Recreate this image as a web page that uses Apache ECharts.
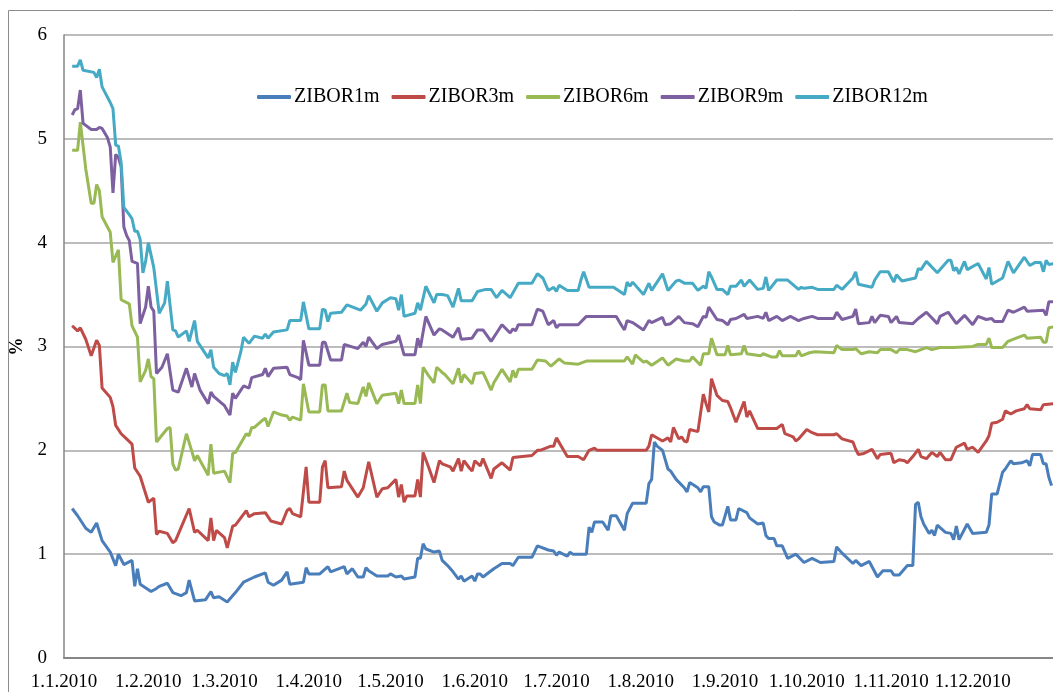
<!DOCTYPE html>
<html>
<head>
<meta charset="utf-8">
<title>ZIBOR 2010</title>
<script src="https://cdn.jsdelivr.net/npm/echarts@6/dist/echarts.min.js"></script>
<style>
  html, body { margin: 0; padding: 0; background: #fff; }
  #chart { width: 1053px; height: 692px; }
</style>
</head>
<body>
<div id="chart"></div>
<script>
  // x axis labels (first day of each month)
  var monthLabels = ['1.1.2010', '1.2.2010', '1.3.2010', '1.4.2010', '1.5.2010', '1.6.2010',
    '1.7.2010', '1.8.2010', '1.9.2010', '1.10.2010', '1.11.2010', '1.12.2010']
  var seriesNames = ['ZIBOR1m', 'ZIBOR3m', 'ZIBOR6m', 'ZIBOR9m', 'ZIBOR12m']
  var seriesColors = ['#4A7EBB', '#BE4B48', '#98B954', '#7D60A0', '#46AAC5']

  // [month-day 2010, rate %]
  var zibor1m = [
    ['01-04',1.44],['01-06',1.37],['01-09',1.25],['01-11',1.21],['01-13',1.30],['01-15',1.13],['01-18',1.02],['01-20',0.89],['01-21',1.00],['01-23',0.90],['01-26',0.94],['01-27',0.69],['01-28',0.86],['01-29',0.71],
    ['02-02',0.64],['02-04',0.67],['02-05',0.69],['02-08',0.72],['02-10',0.63],['02-13',0.60],['02-15',0.63],['02-16',0.75],['02-18',0.55],['02-22',0.56],['02-24',0.64],['02-25',0.58],['02-27',0.59],
    ['03-02',0.54],['03-05',0.63],['03-08',0.73],['03-12',0.78],['03-16',0.82],['03-17',0.73],['03-19',0.70],['03-22',0.75],['03-24',0.83],['03-25',0.71],['03-30',0.73],['03-31',0.87],
    ['04-01',0.81],['04-05',0.81],['04-08',0.88],['04-09',0.83],['04-14',0.88],['04-15',0.81],['04-17',0.86],['04-19',0.78],['04-21',0.78],['04-22',0.87],['04-23',0.84],['04-26',0.79],['04-30',0.79],
    ['05-01',0.81],['05-03',0.78],['05-05',0.79],['05-06',0.76],['05-10',0.78],['05-11',0.96],['05-12',0.96],['05-13',1.10],['05-14',1.05],['05-17',1.02],['05-19',1.03],['05-20',0.94],['05-22',0.89],['05-24',0.83],['05-26',0.76],['05-27',0.79],['05-28',0.74],['05-31',0.79],
    ['06-01',0.74],['06-02',0.81],['06-03',0.81],['06-04',0.78],['06-07',0.84],['06-08',0.86],['06-11',0.91],['06-14',0.91],['06-15',0.89],['06-17',0.97],['06-22',0.97],['06-24',1.08],['06-28',1.04],['06-30',1.03],
    ['07-01',0.99],['07-02',1.02],['07-05',0.98],['07-06',1.02],['07-07',1.00],['07-12',1.00],['07-13',1.26],['07-14',1.21],['07-15',1.31],['07-18',1.31],['07-20',1.23],['07-21',1.37],['07-23',1.37],['07-26',1.23],['07-27',1.39],['07-29',1.49],
    ['08-03',1.49],['08-04',1.68],['08-05',1.72],['08-06',2.08],['08-07',2.04],['08-09',2.00],['08-11',1.82],['08-12',1.80],['08-14',1.72],['08-17',1.64],['08-18',1.60],['08-19',1.69],['08-22',1.64],['08-23',1.60],['08-24',1.65],['08-26',1.65],['08-27',1.36],['08-28',1.31],['08-30',1.28],['08-31',1.28],
    ['09-02',1.46],['09-03',1.33],['09-05',1.33],['09-06',1.44],['09-09',1.40],['09-10',1.35],['09-13',1.29],['09-15',1.30],['09-16',1.18],['09-17',1.15],['09-19',1.15],['09-20',1.08],['09-22',1.08],['09-24',0.96],['09-27',1.00],['09-30',0.92],
    ['10-03',0.96],['10-06',0.92],['10-11',0.93],['10-12',1.07],['10-14',1.01],['10-18',0.91],['10-19',0.94],['10-21',0.89],['10-24',0.93],['10-27',0.78],['10-29',0.84],
    ['11-01',0.84],['11-02',0.80],['11-04',0.80],['11-07',0.89],['11-09',0.89],['11-10',1.48],['11-11',1.50],['11-12',1.36],['11-13',1.29],['11-15',1.20],['11-16',1.23],['11-17',1.18],['11-18',1.28],['11-21',1.21],['11-23',1.20],['11-24',1.14],['11-25',1.27],['11-26',1.14],['11-29',1.29],
    ['12-01',1.20],['12-06',1.21],['12-07',1.28],['12-08',1.58],['12-10',1.58],['12-12',1.79],['12-13',1.82],['12-15',1.90],['12-16',1.87],['12-19',1.88],['12-21',1.90],['12-22',1.85],['12-23',1.96],['12-26',1.96],['12-27',1.87],['12-28',1.87],['12-29',1.74],['12-30',1.66]
  ]

  var zibor3m = [
    ['01-04',3.20],['01-06',3.15],['01-07',3.18],['01-09',3.07],['01-11',2.91],['01-13',3.06],['01-14',3.01],['01-15',2.60],['01-18',2.51],['01-19',2.42],['01-20',2.24],['01-22',2.16],['01-24',2.11],['01-26',2.06],['01-27',1.83],['01-29',1.75],
    ['02-01',1.50],['02-03',1.54],['02-04',1.19],['02-05',1.22],['02-08',1.20],['02-10',1.11],['02-11',1.13],['02-16',1.44],['02-18',1.21],['02-19',1.23],['02-23',1.13],['02-24',1.35],['02-25',1.13],['02-26',1.23],
    ['03-01',1.16],['03-02',1.06],['03-04',1.27],['03-05',1.28],['03-09',1.42],['03-10',1.36],['03-12',1.39],['03-16',1.40],['03-18',1.32],['03-22',1.29],['03-24',1.42],['03-25',1.44],['03-26',1.39],['03-29',1.36],['03-31',1.84],
    ['04-01',1.50],['04-05',1.50],['04-06',1.84],['04-07',1.90],['04-08',1.64],['04-13',1.65],['04-14',1.80],['04-15',1.71],['04-19',1.55],['04-21',1.64],['04-23',1.89],['04-26',1.55],['04-28',1.63],['04-30',1.64],
    ['05-03',1.72],['05-04',1.55],['05-05',1.67],['05-06',1.50],['05-07',1.56],['05-10',1.56],['05-11',1.72],['05-12',1.55],['05-13',1.98],['05-15',1.84],['05-17',1.69],['05-19',1.90],['05-20',1.87],['05-23',1.84],['05-24',1.80],['05-26',1.92],['05-27',1.80],['05-28',1.90],['05-30',1.83],['05-31',1.80],
    ['06-01',1.90],['06-03',1.85],['06-04',1.92],['06-07',1.73],['06-08',1.82],['06-11',1.88],['06-14',1.81],['06-15',1.93],['06-22',1.95],['06-24',2.00],['06-25',2.00],['06-29',2.04],['06-30',2.04],
    ['07-01',2.12],['07-05',1.94],['07-09',1.94],['07-11',1.91],['07-13',2.00],['07-15',2.02],['07-16',2.00],
    ['08-03',2.00],['08-04',2.04],['08-05',2.15],['08-09',2.09],['08-11',2.12],['08-12',2.08],['08-13',2.22],['08-15',2.11],['08-16',2.13],['08-17',2.09],['08-18',2.08],['08-19',2.20],['08-22',2.18],['08-24',2.54],['08-25',2.45],['08-26',2.37],['08-27',2.69],['08-29',2.53],['08-31',2.48],
    ['09-02',2.47],['09-03',2.41],['09-05',2.27],['09-08',2.47],['09-09',2.32],['09-10',2.38],['09-13',2.21],['09-20',2.21],['09-22',2.25],['09-23',2.16],['09-26',2.13],['09-27',2.09],['09-28',2.11],
    ['10-01',2.20],['10-03',2.17],['10-05',2.15],['10-11',2.15],['10-12',2.16],['10-14',2.11],['10-18',2.08],['10-19',2.01],['10-20',1.96],['10-22',1.97],['10-25',2.01],['10-27',1.92],['10-28',1.96],['10-31',1.97],
    ['11-01',1.97],['11-02',1.88],['11-04',1.91],['11-06',1.90],['11-07',1.88],['11-09',1.94],['11-11',2.01],['11-12',1.94],['11-14',1.92],['11-16',1.98],['11-18',1.94],['11-19',1.98],['11-21',1.91],['11-23',1.91],['11-25',2.03],['11-28',2.07],['11-29',2.01],
    ['12-01',2.03],['12-03',1.98],['12-06',2.09],['12-07',2.14],['12-08',2.26],['12-10',2.27],['12-12',2.30],['12-13',2.38],['12-15',2.35],['12-17',2.38],['12-20',2.40],['12-21',2.44],['12-22',2.40],['12-26',2.39],['12-27',2.44],['12-31',2.45]
  ]

  var zibor6m = [
    ['01-04',4.89],['01-06',4.89],['01-07',5.16],['01-09',4.71],['01-11',4.38],['01-12',4.38],['01-13',4.56],['01-14',4.50],['01-15',4.25],['01-18',4.10],['01-19',3.81],['01-21',3.93],['01-22',3.45],['01-25',3.41],['01-26',3.20],['01-28',3.09],['01-29',2.66],['01-31',2.77],
    ['02-01',2.88],['02-02',2.71],['02-03',2.69],['02-04',2.08],['02-08',2.21],['02-09',2.22],['02-10',1.87],['02-11',1.81],['02-12',1.82],['02-15',2.16],['02-17',1.99],['02-18',1.90],['02-19',1.95],['02-23',1.76],['02-24',2.06],['02-25',1.78],
    ['03-01',1.80],['03-03',1.69],['03-04',1.97],['03-05',1.98],['03-09',2.16],['03-10',2.14],['03-11',2.22],['03-12',2.22],['03-15',2.29],['03-16',2.31],['03-17',2.23],['03-19',2.37],['03-22',2.34],['03-24',2.33],['03-25',2.29],['03-26',2.32],['03-29',2.29],['03-30',2.64],
    ['04-01',2.37],['04-05',2.37],['04-06',2.63],['04-07',2.63],['04-08',2.38],['04-13',2.38],['04-15',2.55],['04-16',2.46],['04-19',2.45],['04-21',2.61],['04-22',2.52],['04-23',2.65],['04-26',2.45],['04-28',2.53],
    ['05-03',2.55],['05-04',2.45],['05-05',2.58],['05-06',2.45],['05-10',2.45],['05-11',2.63],['05-12',2.45],['05-13',2.80],['05-15',2.72],['05-17',2.65],['05-18',2.80],['05-20',2.75],['05-21',2.73],['05-24',2.64],['05-26',2.79],['05-27',2.65],['05-28',2.73],['05-31',2.64],
    ['06-01',2.74],['06-04',2.75],['06-07',2.58],['06-08',2.65],['06-11',2.78],['06-14',2.66],['06-15',2.77],['06-16',2.70],['06-17',2.78],['06-22',2.78],['06-24',2.87],['06-27',2.86],['06-29',2.81],
    ['07-02',2.88],['07-04',2.84],['07-09',2.83],['07-12',2.86],['07-26',2.86],['07-27',2.90],['07-29',2.83],['07-30',2.92],
    ['08-02',2.85],['08-03',2.86],['08-05',2.82],['08-09',2.89],['08-11',2.82],['08-14',2.88],['08-17',2.86],['08-19',2.86],['08-20',2.90],['08-23',2.82],['08-24',2.93],['08-26',2.93],['08-27',3.08],['08-29',2.92],
    ['09-01',2.92],['09-02',3.01],['09-03',2.92],['09-07',2.93],['09-08',3.01],['09-09',2.93],['09-14',2.91],['09-15',2.93],['09-18',2.90],['09-20',2.90],['09-21',2.96],['09-22',2.91],['09-27',2.91],['09-28',2.96],['09-29',2.91],
    ['10-02',2.94],['10-04',2.95],['10-11',2.94],['10-12',3.01],['10-14',2.97],['10-18',2.97],['10-19',2.98],['10-21',2.93],['10-24',2.95],['10-27',2.94],['10-28',2.97],
    ['11-01',2.97],['11-03',2.94],['11-04',2.97],['11-07',2.97],['11-10',2.95],['11-14',2.99],['11-16',2.97],['11-19',2.99],['11-24',2.99],
    ['12-01',3.00],['12-03',3.02],['12-06',3.02],['12-07',3.08],['12-08',2.99],['12-12',2.99],['12-14',3.05],['12-17',3.08],['12-20',3.11],['12-21',3.08],['12-26',3.09],['12-27',3.04],['12-28',3.04],['12-29',3.18],['12-31',3.19]
  ]

  var zibor9m = [
    ['01-04',5.23],['01-05',5.28],['01-06',5.29],['01-07',5.47],['01-08',5.15],['01-09',5.13],['01-11',5.09],['01-13',5.09],['01-14',5.11],['01-15',5.10],['01-17',5.01],['01-18',4.92],['01-19',4.48],['01-20',4.85],['01-21',4.82],['01-22',4.73],['01-23',4.15],['01-24',4.07],['01-25',4.02],['01-26',3.82],['01-28',3.80],['01-29',3.22],['01-31',3.38],
    ['02-01',3.58],['02-02',3.38],['02-03',3.34],['02-04',2.74],['02-06',2.80],['02-08',2.93],['02-10',2.58],['02-12',2.56],['02-15',2.79],['02-17',2.61],['02-18',2.74],['02-20',2.58],['02-23',2.45],['02-24',2.56],['02-25',2.52],
    ['03-01',2.43],['03-03',2.34],['03-04',2.55],['03-05',2.50],['03-08',2.62],['03-10',2.60],['03-11',2.70],['03-15',2.73],['03-16',2.79],['03-17',2.71],['03-19',2.79],['03-24',2.80],['03-25',2.73],['03-28',2.70],['03-29',2.68],['03-30',3.06],
    ['04-01',2.82],['04-05',2.82],['04-06',3.04],['04-07',3.04],['04-09',2.87],['04-13',2.87],['04-14',3.02],['04-19',2.98],['04-21',3.04],['04-22',3.00],['04-23',3.09],['04-26',2.98],['04-28',3.02],
    ['05-03',3.05],['05-04',3.11],['05-06',2.92],['05-10',2.92],['05-11',3.08],['05-12',2.99],['05-14',3.29],['05-17',3.11],['05-19',3.17],['05-20',3.16],['05-24',3.09],['05-26',3.18],['05-27',3.07],['05-31',3.08],
    ['06-02',3.16],['06-04',3.16],['06-07',3.05],['06-09',3.13],['06-11',3.21],['06-14',3.13],['06-15',3.17],['06-16',3.15],['06-17',3.21],['06-22',3.21],['06-24',3.36],['06-26',3.34],['06-28',3.21],['06-30',3.25],
    ['07-01',3.18],['07-02',3.21],['07-09',3.21],['07-12',3.29],['07-23',3.29],['07-25',3.20],['07-26',3.16],['07-27',3.25],['07-29',3.23],
    ['08-02',3.16],['08-04',3.25],['08-05',3.23],['08-09',3.28],['08-10',3.21],['08-12',3.22],['08-15',3.29],['08-17',3.23],['08-20',3.22],['08-22',3.19],['08-24',3.29],['08-25',3.28],['08-26',3.38],['08-29',3.26],['08-31',3.25],
    ['09-02',3.21],['09-03',3.26],['09-05',3.27],['09-08',3.31],['09-09',3.27],['09-13',3.29],['09-15',3.27],['09-16',3.33],['09-17',3.25],['09-20',3.29],['09-22',3.25],['09-25',3.29],['09-28',3.25],['09-30',3.27],
    ['10-03',3.29],['10-05',3.27],['10-11',3.27],['10-12',3.33],['10-14',3.26],['10-18',3.29],['10-19',3.36],['10-20',3.22],['10-24',3.23],['10-25',3.29],['10-26',3.23],['10-28',3.30],['10-31',3.29],
    ['11-01',3.23],['11-03',3.29],['11-04',3.23],['11-09',3.22],['11-11',3.27],['11-14',3.33],['11-18',3.22],['11-19',3.29],['11-22',3.33],['11-25',3.22],['11-28',3.30],
    ['12-01',3.21],['12-03',3.29],['12-06',3.26],['12-08',3.27],['12-09',3.24],['12-12',3.24],['12-14',3.35],['12-16',3.33],['12-20',3.38],['12-21',3.34],['12-27',3.35],['12-28',3.30],['12-29',3.43],['12-31',3.43]
  ]

  var zibor12m = [
    ['01-04',5.70],['01-06',5.70],['01-07',5.76],['01-08',5.66],['01-12',5.64],['01-13',5.59],['01-14',5.67],['01-15',5.50],['01-18',5.35],['01-19',5.29],['01-20',4.94],['01-21',4.93],['01-22',4.77],['01-23',4.34],['01-25',4.27],['01-26',4.23],['01-27',4.11],['01-28',4.11],['01-29',4.03],['01-30',3.71],['01-31',3.82],
    ['02-01',4.00],['02-03',3.76],['02-05',3.32],['02-07',3.42],['02-08',3.63],['02-10',3.16],['02-11',3.15],['02-12',3.09],['02-15',3.15],['02-16',3.05],['02-18',3.25],['02-19',3.05],['02-23',2.89],['02-24',2.97],['02-25',2.80],['02-27',2.74],
    ['03-01',2.72],['03-02',2.74],['03-03',2.63],['03-04',2.85],['03-05',2.75],['03-07',2.95],['03-08',3.09],['03-10',3.03],['03-12',3.10],['03-15',3.08],['03-16',3.12],['03-17',3.08],['03-19',3.14],['03-24',3.16],['03-25',3.25],['03-29',3.25],['03-30',3.43],
    ['04-01',3.17],['04-05',3.17],['04-06',3.36],['04-07',3.35],['04-08',3.24],['04-09',3.32],['04-13',3.33],['04-15',3.40],['04-20',3.35],['04-22',3.41],['04-23',3.49],['04-26',3.34],['04-28',3.42],
    ['05-01',3.47],['05-03',3.46],['05-04',3.35],['05-05',3.50],['05-06',3.29],['05-10',3.32],['05-11',3.42],['05-12',3.35],['05-14',3.58],['05-17',3.42],['05-18',3.50],['05-20',3.50],['05-22',3.49],['05-24',3.38],['05-26',3.56],['05-27',3.44],['05-31',3.44],
    ['06-02',3.53],['06-05',3.55],['06-07',3.55],['06-09',3.47],['06-11',3.54],['06-14',3.47],['06-17',3.61],['06-22',3.61],['06-24',3.70],['06-26',3.66],['06-28',3.54],['06-30',3.57],
    ['07-01',3.53],['07-02',3.59],['07-05',3.54],['07-09',3.54],['07-10',3.64],['07-11',3.72],['07-13',3.57],['07-22',3.57],['07-26',3.50],['07-27',3.62],['07-28',3.58],['07-29',3.62],
    ['08-02',3.50],['08-04',3.61],['08-05',3.54],['08-09',3.70],['08-11',3.54],['08-14',3.63],['08-15',3.64],['08-17',3.61],['08-20',3.61],['08-22',3.54],['08-24',3.58],['08-25',3.56],['08-26',3.72],['08-27',3.67],['08-29',3.55],['08-31',3.55],
    ['09-02',3.50],['09-03',3.58],['09-05',3.58],['09-07',3.64],['09-08',3.58],['09-10',3.64],['09-13',3.55],['09-15',3.56],['09-16',3.67],['09-17',3.54],['09-20',3.64],['09-24',3.64],['09-28',3.55],['09-29',3.57],['09-30',3.56],
    ['10-03',3.57],['10-05',3.55],['10-11',3.55],['10-12',3.59],['10-14',3.55],['10-18',3.66],['10-19',3.72],['10-20',3.60],['10-25',3.57],['10-26',3.64],['10-28',3.72],['10-31',3.72],
    ['11-02',3.62],['11-03',3.69],['11-05',3.63],['11-10',3.66],['11-11',3.75],['11-12',3.74],['11-14',3.82],['11-18',3.71],['11-22',3.83],['11-23',3.83],['11-24',3.73],['11-25',3.76],['11-26',3.70],['11-28',3.82],['11-29',3.74],
    ['12-03',3.80],['12-06',3.65],['12-07',3.76],['12-08',3.60],['12-12',3.66],['12-14',3.82],['12-16',3.71],['12-20',3.86],['12-22',3.78],['12-24',3.81],['12-26',3.81],['12-27',3.72],['12-28',3.83],['12-29',3.79],['12-31',3.80]
  ]

  var allData = [zibor1m, zibor3m, zibor6m, zibor9m, zibor12m]
  var serif = '"Liberation Serif", "Times New Roman", serif'
  var DAY = 24 * 3600 * 1000

  function labelTime(s) {
    var p = s.split('.')
    return new Date(+p[2], +p[1] - 1, +p[0]).getTime()
  }
  var monthTimes = monthLabels.map(labelTime)

  var myChart = echarts.init(document.getElementById('chart'))

  var series = seriesNames.map(function (name, i) {
    return {
      name: name,
      type: 'line',
      symbol: 'none',
      lineStyle: { width: 3, color: seriesColors[i] },
      itemStyle: { color: seriesColors[i] },
      data: allData[i].map(function (d) { return ['2010-' + d[0], d[1]] })
    }
  })

  myChart.setOption({
    animation: false,
    backgroundColor: '#fff',
    textStyle: { fontFamily: serif },
    graphic: [{
      // outer chart frame
      type: 'rect',
      silent: true,
      shape: { x: 8.5, y: 10.5, width: 1100, height: 700 },
      style: { fill: null, stroke: '#8c8c8c', lineWidth: 1 }
    }],
    legend: {
      data: seriesNames,
      left: 257,
      top: 87,
      padding: 0,
      icon: 'roundRect',
      itemWidth: 34,
      itemHeight: 4,
      itemGap: 12,
      textStyle: { fontFamily: serif, fontSize: 20, color: '#000', padding: [0, 0, 0, -2] }
    },
    grid: {
      left: 64,
      right: -4,
      top: 35,
      bottom: 34,
      containLabel: false,
      outerBoundsMode: 'none'
    },
    xAxis: {
      type: 'time',
      min: '2010-01-01',
      max: '2011-01-01',
      splitNumber: 12,
      minInterval: 28 * DAY,
      maxInterval: 31 * DAY,
      splitLine: { show: false },
      axisLine: { lineStyle: { color: '#868686', width: 2 } },
      axisTick: { show: false },
      axisLabel: {
        margin: 15,
        hideOverlap: false,
        fontFamily: serif,
        fontSize: 19,
        color: '#000',
        formatter: function (v) {
          var i = monthTimes.indexOf(+v)
          return i >= 0 ? monthLabels[i] : ''
        }
      }
    },
    yAxis: {
      type: 'value',
      min: 0,
      max: 6,
      interval: 1,
      name: '%',
      nameLocation: 'middle',
      nameRotate: 90,
      nameGap: 36,
      nameTextStyle: { fontFamily: serif, fontSize: 18, fontWeight: 'bold', color: '#000' },
      axisLine: { show: true, lineStyle: { color: '#868686', width: 1.5 } },
      axisTick: { show: false },
      splitLine: { lineStyle: { color: '#a6a6a6', width: 1.5 } },
      axisLabel: { margin: 17, fontFamily: serif, fontSize: 19, color: '#000' }
    },
    series: series
  })
</script>
</body>
</html>
